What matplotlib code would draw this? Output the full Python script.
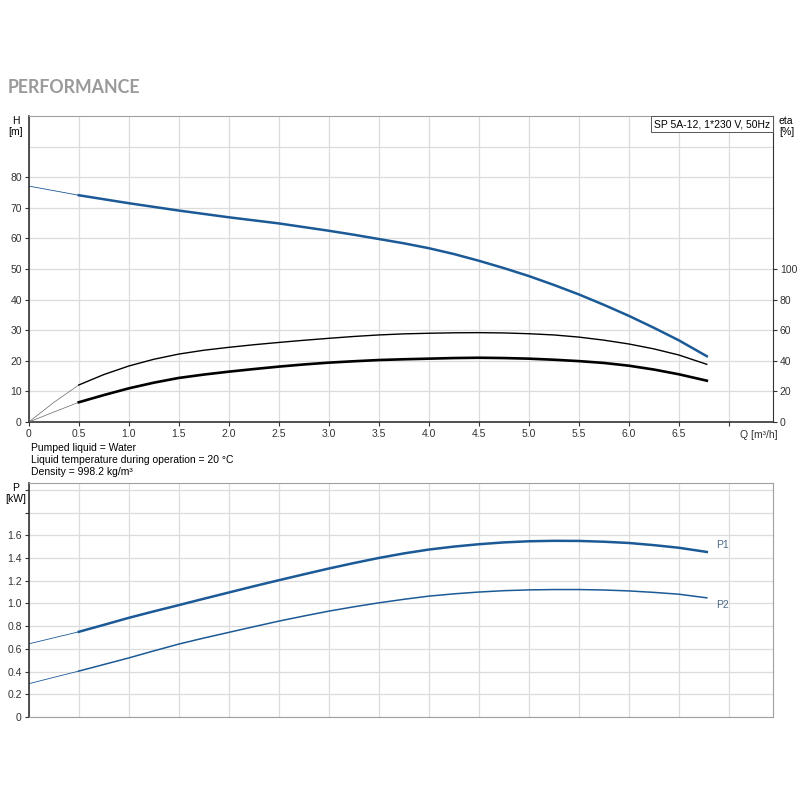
import numpy as np
import matplotlib
matplotlib.use('Agg')
import matplotlib.pyplot as plt

plt.rcParams['font.family'] = ['Liberation Sans', 'DejaVu Sans']

# flow [m3/h] for the operating range (thick part)
q = [0.5, 0.75, 1.0, 1.25, 1.5, 1.75, 2.0, 2.25, 2.5, 2.75, 3.0, 3.25, 3.5,
     3.75, 4.0, 4.25, 4.5, 4.75, 5.0, 5.25, 5.5, 5.75, 6.0, 6.25, 6.5, 6.78]
head = [74.1, 72.8, 71.5, 70.3, 69.1, 68.0, 66.9, 65.9, 64.9, 63.7, 62.5, 61.2, 59.8,
        58.4, 56.8, 54.9, 52.7, 50.3, 47.7, 44.8, 41.7, 38.3, 34.7, 30.8, 26.7, 21.5]
eta_pump = [24.2, 31.0, 36.6, 41.0, 44.4, 46.9, 48.8, 50.5, 52.0, 53.4, 54.7, 55.9, 56.9,
            57.6, 58.0, 58.3, 58.4, 58.2, 57.7, 56.9, 55.5, 53.5, 51.0, 47.8, 43.8, 37.7]
eta_total = [12.9, 17.6, 22.0, 25.7, 28.8, 31.0, 32.9, 34.6, 36.2, 37.6, 38.8, 39.7, 40.5,
             41.0, 41.4, 41.8, 42.0, 41.8, 41.4, 40.7, 39.8, 38.6, 36.8, 34.3, 31.2, 27.0]
p1 = [0.750, 0.811, 0.873, 0.930, 0.985, 1.041, 1.096, 1.151, 1.204, 1.256, 1.307, 1.355, 1.400,
      1.440, 1.474, 1.500, 1.521, 1.537, 1.547, 1.551, 1.550, 1.543, 1.532, 1.513, 1.490, 1.453]
p2 = [0.404, 0.462, 0.520, 0.582, 0.642, 0.695, 0.745, 0.795, 0.844, 0.889, 0.932, 0.970, 1.005,
      1.036, 1.064, 1.084, 1.100, 1.112, 1.119, 1.122, 1.122, 1.118, 1.110, 1.097, 1.081, 1.049]

# thin lead-in from zero flow
q_lead = [0.0, 0.25, 0.5]
head_lead = [77.1, 75.6, 74.1]
eta_pump_lead = [0.0, 12.8, 24.2]
eta_total_lead = [0.0, 6.5, 12.9]
p1_lead = [0.644, 0.697, 0.750]
p2_lead = [0.293, 0.349, 0.404]

q_ticks = np.arange(0, 7.01, 0.5)
q_ticklabels = ['0'] + ['%.1f' % v for v in q_ticks[1:-1]] + ['']

blue = '#1b5a96'
grid_c = '#dcdcdc'
spine_dark = '#333333'
spine_light = '#a0a0a0'
fs = 7.5

fig = plt.figure(figsize=(8, 8), dpi=100)
fig.text(0.01, 0.884, 'PERFORMANCE', fontsize=12.8, color='#9a9a9a', va='baseline',
         fontweight='bold', family=['Lato', 'DejaVu Sans'])

# ---------------- top: head and efficiency ----------------
ax = fig.add_axes([0.036, 0.4725, 0.93, 0.3825])
ax.set_xlim(0, 7.44)
ax.set_ylim(0, 100)
ax.set_xticks(q_ticks)
ax.set_xticklabels(q_ticklabels)
ax.set_yticks(np.arange(0, 81, 10))
ax.set_yticks([90], minor=True)
ax.grid(True, which='both', color=grid_c, lw=0.9)
ax.set_axisbelow(True)
ax.tick_params(labelsize=fs, length=3, width=0.8, colors=spine_dark, pad=2)
ax.tick_params(which='minor', length=0)
ax.spines['left'].set_color(spine_dark)
ax.spines['bottom'].set_color(spine_dark)
ax.spines['top'].set_color(spine_light)
ax.spines['right'].set_color(spine_dark)
ax.spines['left'].set_linewidth(1.2)
ax.spines['bottom'].set_linewidth(1.2)

ax.plot(q_lead, head_lead, color=blue, lw=0.6)
ax.plot(q, head, color=blue, lw=1.8)

ax2 = ax.twinx()
ax2.set_ylim(0, 200)
ax2.set_yticks(np.arange(0, 101, 20))
ax2.tick_params(labelsize=fs, length=3, width=0.8, colors=spine_dark, pad=2)
for s in ax2.spines.values():
    s.set_visible(False)
ax2.plot(q_lead, eta_pump_lead, color='#666666', lw=0.5)
ax2.plot(q_lead, eta_total_lead, color='#666666', lw=0.5)
ax2.plot(q, eta_pump, color='black', lw=1.0)
ax2.plot(q, eta_total, color='black', lw=1.9)

ax.text(-0.018, 1.0, 'H\n[m]', transform=ax.transAxes, ha='center', va='top',
        fontsize=fs, linespacing=1.1)
ax.text(1.008, 1.0, 'eta\n[%]', transform=ax.transAxes, ha='left', va='top',
        fontsize=fs, linespacing=1.1)
ax.text(7.3, -2.7, 'Q [m³/h]', ha='center', va='top', fontsize=fs, color=spine_dark)
ax.text(0.996, 0.99, 'SP 5A-12, 1*230 V, 50Hz', transform=ax.transAxes,
        ha='right', va='top', fontsize=fs,
        bbox=dict(facecolor='white', edgecolor='#555555', lw=0.7, pad=2.2))

fig.text(0.039, 0.446, 'Pumped liquid = Water\n'
         'Liquid temperature during operation = 20 °C\n'
         'Density = 998.2 kg/m³', ha='left', va='top', fontsize=fs,
         linespacing=1.25)

# ---------------- bottom: power ----------------
bx = fig.add_axes([0.036, 0.10375, 0.93, 0.2925])
bx.set_xlim(0, 7.44)
bx.set_ylim(0, 2.06)
bx.set_xticks(q_ticks)
bx.set_xticklabels([])
bx.set_yticks(np.arange(0, 2.01, 0.2))
bx.set_yticklabels(['0'] + ['%.1f' % v for v in np.arange(0.2, 1.61, 0.2)] + ['', ''])
bx.grid(True, color=grid_c, lw=0.9)
bx.set_axisbelow(True)
bx.tick_params(axis='y', labelsize=fs, length=3, width=0.8, colors=spine_dark, pad=2)
bx.tick_params(axis='x', length=0)
bx.spines['left'].set_color(spine_dark)
bx.spines['left'].set_linewidth(1.2)
for k in ['top', 'right', 'bottom']:
    bx.spines[k].set_color(spine_light)

bx.plot(q_lead, p1_lead, color=blue, lw=0.6)
bx.plot(q_lead, p2_lead, color=blue, lw=0.6)
bx.plot(q, p1, color=blue, lw=1.8)
bx.plot(q, p2, color=blue, lw=1.1)
bx.text(6.87, p1[-1] + 0.06, 'P1', fontsize=fs, color='#4a6a8a', va='center')
bx.text(6.87, p2[-1] - 0.064, 'P2', fontsize=fs, color='#4a6a8a', va='center')
bx.text(-0.018, 1.0, 'P\n[kW]', transform=bx.transAxes, ha='center', va='top',
        fontsize=fs, linespacing=1.1)

fig.savefig('out.png', dpi=100)
